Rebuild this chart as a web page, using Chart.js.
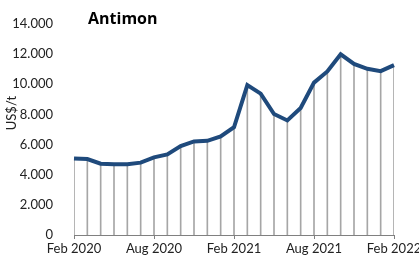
<!DOCTYPE html>
<html lang="de">
<head>
    <meta charset="UTF-8">
    <title>Antimon</title>
    <style>
        html, body { margin: 0; padding: 0; background: #fff; }
        #wrap { width: 419px; height: 261px; }
    </style>
</head>
<body>
    <div id="wrap">
        <canvas id="myChart"></canvas>
    </div>

    <script src="https://cdn.jsdelivr.net/npm/chart.js"></script>
    <script>
        const chartTitle = 'Antimon';
        const yTitle = 'US$/t';
        const months = [
            'Feb 2020', 'Mär 2020', 'Apr 2020', 'Mai 2020', 'Jun 2020', 'Jul 2020',
            'Aug 2020', 'Sep 2020', 'Okt 2020', 'Nov 2020', 'Dez 2020', 'Jan 2021',
            'Feb 2021', 'Mär 2021', 'Apr 2021', 'Mai 2021', 'Jun 2021', 'Jul 2021',
            'Aug 2021', 'Sep 2021', 'Okt 2021', 'Nov 2021', 'Dez 2021', 'Jan 2022',
            'Feb 2022'
        ];
        const prices = [
            5080, 5040, 4730, 4690, 4690, 4800, 5150, 5350, 5900, 6210, 6250, 6540,
            7150, 9950, 9380, 8030, 7600, 8430, 10110, 10850, 11990, 11350, 11030, 10870,
            11270
        ];
        const labelEvery = 6;

        const fmt = new Intl.NumberFormat('de-DE');

        // title inside the plot and the y axis caption, drawn by hand
        const textPlugin = {
            id: 'extraText',
            afterDraw(chart) {
                const ctx = chart.ctx;
                ctx.save();
                ctx.font = 'bold 16px "Open Sans", sans-serif';
                ctx.fillStyle = '#000';
                ctx.textBaseline = 'middle';
                ctx.fillText(chartTitle, chart.chartArea.left + 14, 19);

                ctx.font = '13px Lato, sans-serif';
                ctx.fillStyle = '#222';
                ctx.translate(12, 113);
                ctx.rotate(-Math.PI / 2);
                ctx.textAlign = 'center';
                ctx.fillText(yTitle, 0, 0);
                ctx.restore();
            }
        };

        const ctx = document.getElementById('myChart');
        new Chart(ctx, {
            data: {
                labels: months,
                datasets: [{
                    type: 'line',
                    data: prices,
                    borderColor: '#1f4a7c',
                    borderWidth: 4,
                    pointRadius: 0,
                    tension: 0,
                    order: 0
                }, {
                    type: 'bar',
                    data: prices,
                    backgroundColor: '#a6a6a6',
                    barThickness: 1,
                    order: 1
                }]
            },
            options: {
                responsive: true,
                maintainAspectRatio: false,
                animation: false,
                layout: { padding: { top: 24, right: 25, left: 0, bottom: 0 } },
                plugins: {
                    legend: { display: false },
                    tooltip: { enabled: false }
                },
                scales: {
                    x: {
                        offset: false,
                        grid: {
                            offset: false,
                            drawOnChartArea: false,
                            tickLength: 4,
                            color: '#808080'
                        },
                        border: { color: '#808080' },
                        ticks: {
                            autoSkip: false,
                            maxRotation: 0,
                            padding: 2,
                            color: '#222',
                            font: { family: 'Lato', size: 13 },
                            callback: function (value, index) {
                                return index % labelEvery === 0 ? months[index] : null;
                            }
                        },
                        afterFit: function (scale) {
                            scale.height = 26;
                            scale.paddingLeft = 0;
                            scale.paddingRight = 0;
                        }
                    },
                    y: {
                        min: 0,
                        max: 14000,
                        grid: { display: false },
                        border: { display: false },
                        ticks: {
                            stepSize: 2000,
                            padding: 13,
                            color: '#222',
                            font: { family: 'Lato', size: 13 },
                            callback: function (value) { return fmt.format(value); }
                        },
                        afterFit: function (scale) {
                            scale.width = 74;
                            scale.paddingTop = 0;
                            scale.paddingBottom = 0;
                        }
                    }
                }
            },
            plugins: [textPlugin]
        });
    </script>
</body>
</html>
